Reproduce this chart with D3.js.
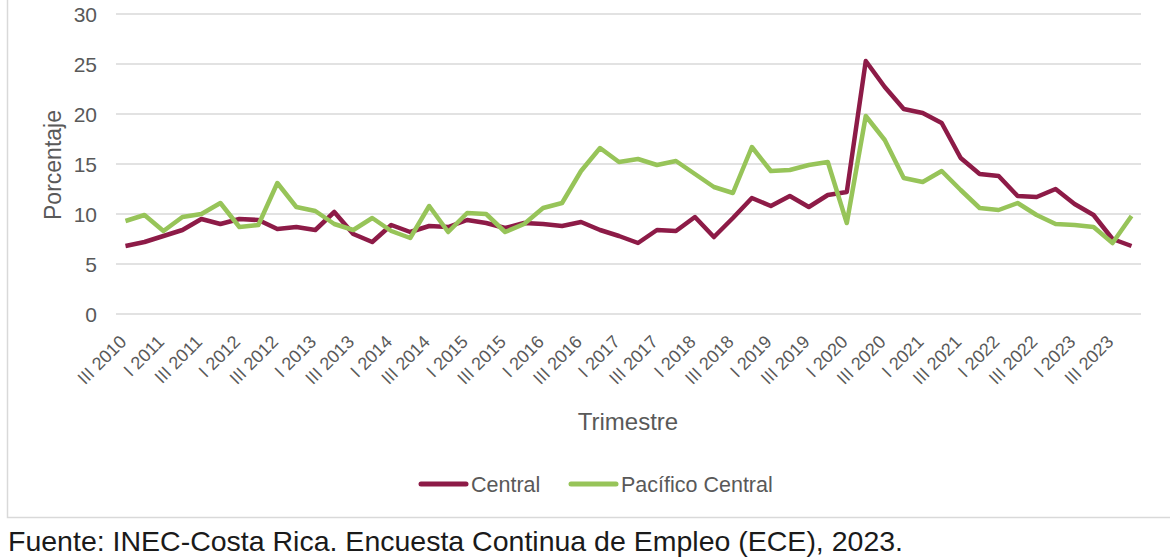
<!DOCTYPE html>
<html><head><meta charset="utf-8">
<script src="https://cdn.jsdelivr.net/npm/d3@7"></script>
<style>body{margin:0;background:#fff;}svg{display:block;font-family:"Liberation Sans",Arial,sans-serif;}</style>
</head><body><svg id="c" width="1170" height="558"></svg>
<script>
const quarters = [];
const romans = ["I","II","III","IV"];
for (let y = 2010; y <= 2023; y++) for (let q = 0; q < 4; q++) { if (y === 2010 && q < 2) continue; quarters.push(romans[q] + " " + y); }
const central = [6.8,7.2,7.8,8.4,9.5,9.0,9.5,9.4,8.5,8.7,8.4,10.2,8.0,7.2,8.9,8.2,8.8,8.7,9.4,9.1,8.6,9.1,9.0,8.8,9.2,8.4,7.8,7.1,8.4,8.3,9.7,7.7,9.6,11.6,10.8,11.8,10.7,11.9,12.2,25.3,22.7,20.5,20.1,19.1,15.6,14.0,13.8,11.8,11.7,12.5,11.0,9.9,7.5,6.8];
const pacifico = [9.3,9.9,8.3,9.7,10.0,11.1,8.7,8.9,13.1,10.7,10.3,9.0,8.4,9.6,8.3,7.6,10.8,8.2,10.1,10.0,8.2,9.0,10.6,11.1,14.3,16.6,15.2,15.5,14.9,15.3,14.0,12.7,12.1,16.7,14.3,14.4,14.9,15.2,9.1,19.8,17.4,13.6,13.2,14.3,12.4,10.6,10.4,11.1,9.9,9.0,8.9,8.7,7.1,9.8];
const yTicks = [0,5,10,15,20,25,30];
const seriesNames = ["Central","Pacífico Central"];
const colors = ["#8D1B47","#97C459"];

const svg = d3.select("#c");
// outer frame
svg.append("rect").attr("x",7.5).attr("y",-5).attr("width",1180).attr("height",522.5)
  .attr("fill","none").attr("stroke","#d9d9d9").attr("stroke-width",1.5);

const x = d3.scaleBand().domain(quarters).range([116,1141]);
const y = d3.scaleLinear().domain([0,30]).range([314,14]);

// gridlines
svg.append("g").selectAll("line").data(yTicks).join("line")
  .attr("x1",116).attr("x2",1141).attr("y1",d=>y(d)).attr("y2",d=>y(d))
  .attr("stroke","#d9d9d9").attr("stroke-width",1.5);

// y axis labels
const yAxis = d3.axisLeft(y).tickValues(yTicks).tickSize(0).tickPadding(0);
const gy = svg.append("g").attr("transform","translate(97,0)").call(yAxis);
gy.select(".domain").remove();
gy.selectAll("text").attr("font-size",21).attr("fill","#595959").attr("font-family","Liberation Sans, Arial, sans-serif").attr("dy","0.36em");

// x axis labels
const xAxis = d3.axisBottom(x).tickValues(quarters.filter((d,i)=>i%2===0)).tickSize(0).tickPadding(0);
const gx = svg.append("g").attr("transform","translate(0,314)").call(xAxis);
gx.select(".domain").remove();
gx.selectAll(".tick text").attr("font-size",18).attr("fill","#595959")
  .attr("font-family","Liberation Sans, Arial, sans-serif")
  .attr("text-anchor","end").attr("dy",0).attr("y",0)
  .attr("transform","translate(2,29) rotate(-45)");

// lines
const line = d3.line().x((d,i)=>x(quarters[i])+x.bandwidth()/2).y(d=>y(d));
[central,pacifico].forEach((s,k)=>{
  svg.append("path").datum(s).attr("d",line).attr("fill","none")
    .attr("stroke",colors[k]).attr("stroke-width",4.5).attr("stroke-linejoin","round");
});

// axis titles
svg.append("text").attr("transform","translate(61,165) rotate(-90)").attr("text-anchor","middle")
  .attr("font-size",23).attr("fill","#595959").text("Porcentaje");
svg.append("text").attr("x",628).attr("y",430).attr("text-anchor","middle")
  .attr("font-size",24).attr("fill","#595959").text("Trimestre");

// legend
const legX = [421,571];
seriesNames.forEach((n,k)=>{
  svg.append("line").attr("x1",legX[k]).attr("x2",legX[k]+45).attr("y1",484).attr("y2",484)
    .attr("stroke",colors[k]).attr("stroke-width",5).attr("stroke-linecap","round");
  svg.append("text").attr("x",legX[k]+50).attr("y",491.5).attr("font-size",21.5).attr("fill","#595959").text(n);
});

// source
svg.append("text").attr("x",8).attr("y",551).attr("font-size",28.5).attr("fill","#1a1a1a")
  .text("Fuente: INEC-Costa Rica. Encuesta Continua de Empleo (ECE), 2023.");
</script></body></html>
